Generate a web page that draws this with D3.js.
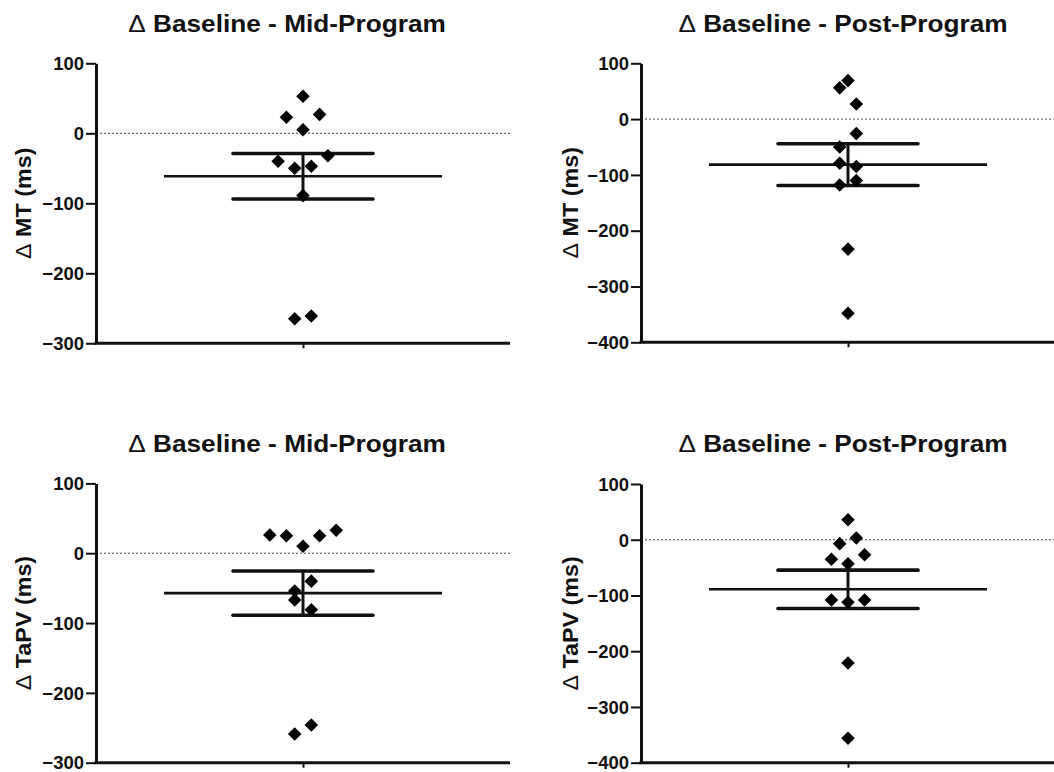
<!DOCTYPE html>
<html>
<head>
<meta charset="utf-8">
<script src="https://cdn.jsdelivr.net/npm/d3@7"></script>
<style>
  html, body { margin: 0; padding: 0; background: #fff; }
  svg { display: block; }
  text { font-family: "Liberation Sans", Arial, Helvetica, sans-serif; font-weight: bold; fill: #111; }
</style>
</head>
<body>
<svg id="chart" width="1054" height="772"></svg>
<script>
// ---------- DATA ----------
const titles = ["Baseline - Mid-Program", "Baseline - Post-Program"];
const yLabels = ["MT (ms)", "TaPV (ms)"];
const deltaSign = "Δ";
const categories = ["Group"];

const ticksMid = [100, 0, -100, -200, -300];
const ticksPost = [100, 0, -100, -200, -300, -400];

// Δ MT, baseline - mid-program
const mtMid     = [53, 23, 27, 5, -40, -32, -50, -47, -89, -265, -261];
const mtMidSlot = [0, -2, 2, 0, -3, 3, -1, 1, 0, -1, 1];

// Δ MT, baseline - post-program
const mtPost     = [69, 56, 27, -26, -50, -79, -85, -110, -118, -233, -348];
const mtPostSlot = [0, -1, 1, 1, -1, -1, 1, 1, -1, 0, 0];

// Δ TaPV, baseline - mid-program
const tapvMid     = [26, 25, 10, 25, 33, -40, -54, -67, -81, -259, -246];
const tapvMidSlot = [-4, -2, 0, 2, 4, 1, -1, -1, 1, -1, 1];

// Δ TaPV, baseline - post-program
const tapvPost     = [36, -7, 3, -35, -27, -43, -108, -112, -108, -221, -356];
const tapvPostSlot = [0, -1, 1, -2, 2, 0, -2, 0, 2, 0, 0];

// ---------- LAYOUT ----------
const panels = [
  { values: mtMid,    slots: mtMidSlot,    title: titles[0], ylab: yLabels[0], ticks: ticksMid,  left: 96,  top: 63.3,  bottom: 343.3, titleX: 287, titleY: 32,  labX: 31 },
  { values: mtPost,   slots: mtPostSlot,   title: titles[1], ylab: yLabels[0], ticks: ticksPost, left: 641, top: 63.3,  bottom: 342.3, titleX: 843, titleY: 32,  labX: 578 },
  { values: tapvMid,  slots: tapvMidSlot,  title: titles[0], ylab: yLabels[1], ticks: ticksMid,  left: 96,  top: 483.4, bottom: 762.7, titleX: 287, titleY: 452, labX: 31 },
  { values: tapvPost, slots: tapvPostSlot, title: titles[1], ylab: yLabels[1], ticks: ticksPost, left: 641, top: 484,   bottom: 762.7, titleX: 843, titleY: 452, labX: 578 }
];
const plotW = 414;
const slotPx = 8.3;

const svg = d3.select("#chart");

function deltaText(sel, label) {
  sel.append("tspan").attr("font-weight", "normal").text(deltaSign);
  sel.append("tspan").text(" " + label);
}

panels.forEach(p => {
  const g = svg.append("g");
  const x = d3.scalePoint().domain(categories).range([p.left, p.left + plotW]).padding(0.5);
  const y = d3.scaleLinear()
    .domain([d3.min(p.ticks), d3.max(p.ticks)])
    .range([p.bottom, p.top]);
  const cx = x(categories[0]);

  // zero dotted reference line
  g.append("line")
    .attr("x1", p.left).attr("x2", p.left + plotW)
    .attr("y1", y(0)).attr("y2", y(0))
    .attr("stroke", "#444").attr("stroke-width", 1)
    .attr("stroke-dasharray", "2,2");

  // y axis
  const yAxis = d3.axisLeft(y).tickValues(p.ticks).tickSize(10).tickSizeOuter(0).tickPadding(2);
  const ya = g.append("g").attr("transform", `translate(${p.left},0)`).call(yAxis);
  ya.select(".domain").attr("stroke", "#111").attr("stroke-width", 3);
  ya.selectAll(".tick line").attr("stroke", "#111").attr("stroke-width", 2);
  ya.selectAll(".tick text")
    .attr("font-size", 18.5).attr("font-weight", "bold")
    .attr("font-family", "'Liberation Sans', Arial, sans-serif")
    .attr("fill", "#111").attr("dy", "0.34em");

  // x axis
  const xAxis = d3.axisBottom(x).tickSize(5).tickSizeOuter(0).tickFormat("");
  const xa = g.append("g").attr("transform", `translate(0,${p.bottom})`).call(xAxis);
  xa.select(".domain").attr("stroke", "#111").attr("stroke-width", 3)
    .attr("d", `M${p.left - 1.5},0H${p.left + plotW}`);
  xa.selectAll(".tick line").attr("stroke", "#111").attr("stroke-width", 2);

  // stats
  const mean = d3.mean(p.values);
  const sem = d3.deviation(p.values) / Math.sqrt(p.values.length);

  // mean line
  g.append("line")
    .attr("x1", cx - 139).attr("x2", cx + 139)
    .attr("y1", y(mean)).attr("y2", y(mean))
    .attr("stroke", "#111").attr("stroke-width", 2.6);
  // error bar
  g.append("line")
    .attr("x1", cx).attr("x2", cx)
    .attr("y1", y(mean + sem)).attr("y2", y(mean - sem))
    .attr("stroke", "#111").attr("stroke-width", 3);
  [mean + sem, mean - sem].forEach(v => {
    g.append("line")
      .attr("x1", cx - 70).attr("x2", cx + 70)
      .attr("y1", y(v)).attr("y2", y(v))
      .attr("stroke", "#111").attr("stroke-width", 3.6)
      .attr("stroke-linecap", "round");
  });

  // points
  const sym = d3.symbol().type(d3.symbolSquare).size(92);
  g.selectAll("path.pt").data(p.values).enter().append("path")
    .attr("class", "pt")
    .attr("d", sym)
    .attr("fill", "#000")
    .attr("transform", (d, i) => `translate(${cx + p.slots[i] * slotPx},${y(d)}) rotate(45)`);

  // title (slightly stretched horizontally, like the reference)
  const t = g.append("text")
    .attr("transform", `translate(${p.titleX},${p.titleY}) scale(1.14,1)`)
    .attr("text-anchor", "middle")
    .attr("font-size", 23);
  deltaText(t, p.title);

  // y label
  const yl = g.append("text")
    .attr("transform", `translate(${p.labX},${(p.top + p.bottom) / 2}) rotate(-90) scale(1.06,1)`)
    .attr("text-anchor", "middle")
    .attr("font-size", 22);
  deltaText(yl, p.ylab);
});
</script>
</body>
</html>
